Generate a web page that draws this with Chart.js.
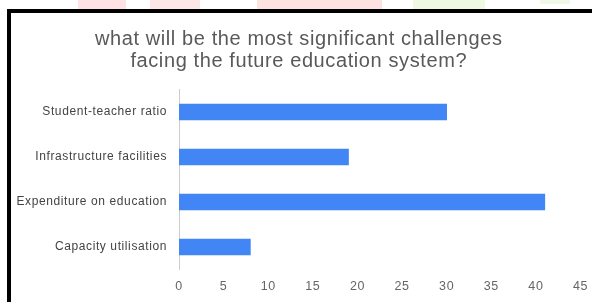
<!DOCTYPE html>
<html>
<head>
<meta charset="utf-8">
<script src="https://cdn.jsdelivr.net/npm/chart.js@4/dist/chart.umd.min.js"></script>
<style>
  html, body { margin: 0; padding: 0; background: #fff; overflow: hidden; }
  #wrap { position: relative; width: 593px; height: 302px; overflow: hidden; }
  .deco { position: absolute; top: 0; height: 9px; }
  #ftop { position: absolute; left: 7px; top: 9px; width: 585px; height: 4px; background: #000; }
  #fleft { position: absolute; left: 7px; top: 9px; width: 4px; height: 293px; background: #000; }
  canvas { position: absolute; left: 0; top: 0; }
</style>
</head>
<body>
<div id="wrap">
  <div class="deco" style="left:78px;width:48px;background:#fde3e3;"></div>
  <div class="deco" style="left:150px;width:50px;background:#fde6e6;"></div>
  <div class="deco" style="left:257px;width:125px;background:#fde2e2;"></div>
  <div class="deco" style="left:413px;width:72px;background:#eef8e2;"></div>
  <div class="deco" style="left:540px;width:30px;height:4px;background:#f0f8e8;"></div>
  <div id="ftop"></div>
  <div id="fleft"></div>
  <canvas id="c" width="593" height="302"></canvas>
</div>
<script>
const categories = ["Student-teacher ratio", "Infrastructure facilities", "Expenditure on education", "Capacity utilisation"];
const values = [30, 19, 41, 8];
const titleLines = ["what will be the most significant challenges", "facing the future education system?"];
const xMin = 0, xMax = 45, xStep = 5;

const spacing = {
  id: 'spacing',
  beforeDraw(chart) { chart.ctx.letterSpacing = '0.6px'; }
};

new Chart(document.getElementById('c'), {
  type: 'bar',
  data: {
    labels: categories,
    datasets: [{
      data: values,
      backgroundColor: '#4285f4',
      borderWidth: 0,
      barThickness: 16
    }]
  },
  plugins: [spacing],
  options: {
    indexAxis: 'y',
    responsive: false,
    animation: false,
    devicePixelRatio: 1,
    layout: { padding: { left: 17, right: 12.5, top: 0, bottom: 0 } },
    plugins: {
      legend: { display: false },
      tooltip: { enabled: false },
      title: {
        display: true,
        text: titleLines,
        color: '#595959',
        font: { family: 'Liberation Sans, Arial, sans-serif', size: 20, weight: 'normal', lineHeight: 1.1 },
        padding: { top: 28, bottom: 17.5 }
      }
    },
    scales: {
      x: {
        min: xMin, max: xMax,
        grid: { display: false, drawTicks: false },
        border: { display: false },
        ticks: {
          stepSize: xStep,
          padding: 10,
          color: '#666',
          font: { family: 'Liberation Sans, Arial, sans-serif', size: 12.5 }
        },
        afterFit: (s) => { s.height = 32.5; s.paddingLeft = 0; s.paddingRight = 0; }
      },
      y: {
        grid: { display: false, drawTicks: false },
        border: { display: true, color: '#cccccc', width: 1 },
        ticks: {
          padding: 12,
          color: '#444',
          font: { family: 'Liberation Sans, Arial, sans-serif', size: 12 }
        },
        afterFit: (s) => { s.width = 162; s.paddingTop = 0; s.paddingBottom = 0; }
      }
    }
  }
});
</script>
</body>
</html>
